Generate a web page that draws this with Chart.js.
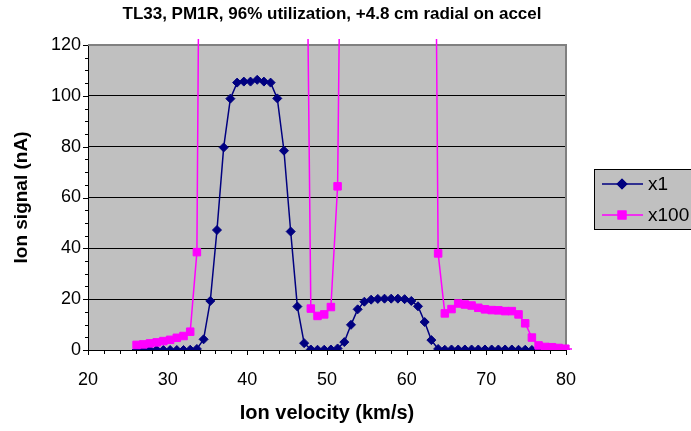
<!DOCTYPE html>
<html>
<head>
<meta charset="utf-8">
<script src="https://cdn.jsdelivr.net/npm/chart.js@4.4.1/dist/chart.umd.min.js"></script>
<style>
  html, body { margin: 0; padding: 0; background: #fff; }
</style>
</head>
<body>
<canvas id="ionChart" width="691" height="431"></canvas>
<script>
// Ion velocity (km/s) for each sample
const velocity = [
  26.10, 26.94, 27.78, 28.62, 29.46, 30.31, 31.15, 31.99, 32.83, 33.67,
  34.51, 35.35, 36.19, 37.03, 37.87, 38.72, 39.56, 40.40, 41.24, 42.08,
  42.92, 43.76, 44.60, 45.44, 46.28, 47.13, 47.97, 48.81, 49.65, 50.49,
  51.33, 52.17, 53.01, 53.85, 54.69, 55.54, 56.38, 57.22, 58.06, 58.90,
  59.74, 60.58, 61.42, 62.26, 63.10, 63.95, 64.79, 65.63, 66.47, 67.31,
  68.15, 68.99, 69.83, 70.67, 71.51, 72.36, 73.20, 74.04, 74.88, 75.72,
  76.56, 77.40, 78.24, 79.08, 79.92, 81.00
];

// Ion signal (nA), gain x1
const signalX1 = [
  0, 0, 0, 0, 0, 0, 0, 0, 0.1, 0.4,
  4.2, 19.3, 47.2, 79.7, 98.9, 105.2, 105.6, 105.6, 106.3, 105.6,
  105.2, 99.0, 78.4, 46.6, 17.1, 2.7, 0.2, 0.1, 0.1, 0.2,
  0.6, 3.1, 9.9, 16.0, 19.0, 19.8, 20.1, 20.2, 20.2, 20.2,
  20.0, 19.3, 17.2, 11.0, 3.9, 0.4, 0.1, 0.2, 0.2, 0.2,
  0.2, 0.2, 0.2, 0.2, 0.2, 0.2, 0.2, 0.1, 0.1, 0,
  0, 0, 0, 0, 0
];

// Ion signal (nA), gain x100 (off-scale in the big peaks)
const signalX100 = [
  2.0, 2.2, 2.6, 3.0, 3.5, 4.0, 4.8, 5.5, 7.2, 38.5,
  420, 1930, 4720, 7970, 9890, 10520, 10560, 10560, 10630, 10560,
  10520, 9900, 7840, 4660, 1710, 270, 16.3, 13.4, 14.0, 16.9,
  64.4, 310, 990, 1600, 1900, 1980, 2010, 2020, 2020, 2020,
  2000, 1930, 1720, 1100, 390, 38.0, 14.4, 16.1, 18.3, 17.9,
  17.5, 16.6, 16.0, 15.7, 15.6, 15.3, 15.3, 14.0, 10.5, 4.9,
  1.8, 1.2, 1.1, 0.8, 0.5, 0.3
];

const seriesNames = ['x1', 'x100'];
const chartTitle = 'TL33, PM1R, 96% utilization, +4.8 cm radial on accel';
const FONT = "'Liberation Sans', Arial, sans-serif";

// grey plot area, grey top/right frame, tick marks and the title
const plotFrame = {
  id: 'plotFrame',
  beforeDraw(chart) {
    const { ctx, chartArea: a } = chart;
    ctx.save();
    ctx.fillStyle = '#ffffff';
    ctx.fillRect(0, 0, chart.width, chart.height);
    ctx.fillStyle = '#c0c0c0';
    ctx.fillRect(a.left, a.top, a.right - a.left, a.bottom - a.top);
    ctx.fillStyle = '#000';
    ctx.font = 'bold 17px ' + FONT;
    ctx.textAlign = 'center';
    ctx.textBaseline = 'middle';
    ctx.fillText(chartTitle, 332, 14);
    ctx.restore();
  },
  beforeDatasetsDraw(chart) {
    const { ctx, chartArea: a, scales } = chart;
    ctx.save();
    ctx.strokeStyle = '#808080';
    ctx.lineWidth = 2;
    ctx.beginPath();
    ctx.moveTo(a.left, a.top);
    ctx.lineTo(a.right, a.top);
    ctx.lineTo(a.right, a.bottom);
    ctx.stroke();

    ctx.strokeStyle = '#000';
    ctx.lineWidth = 1;
    ctx.beginPath();
    for (let v = 0; v <= 120; v += 5) {
      const y = Math.round(scales.y.getPixelForValue(v)) + 0.5;
      const len = v % 20 === 0 ? 5 : 3;
      ctx.moveTo(a.left - len, y);
      ctx.lineTo(a.left, y);
    }
    for (let v = 20; v <= 80; v += 2) {
      const x = Math.round(scales.x.getPixelForValue(v)) + 0.5;
      const len = v % 10 === 0 ? 5 : 4;
      ctx.moveTo(x, a.bottom);
      ctx.lineTo(x, a.bottom + len);
    }
    ctx.stroke();
    ctx.restore();
  }
};

// Excel-like legend box hanging off the right edge
const boxLegend = {
  id: 'boxLegend',
  afterDraw(chart) {
    const { ctx } = chart;
    const ds = chart.data.datasets;
    ctx.save();
    ctx.fillStyle = '#c0c0c0';
    ctx.strokeStyle = '#000';
    ctx.lineWidth = 1;
    ctx.fillRect(594.5, 169.5, 110, 60);
    ctx.strokeRect(594.5, 169.5, 110, 60);
    [184, 215].forEach((y, i) => {
      const d = ds[i];
      ctx.strokeStyle = d.borderColor;
      ctx.lineWidth = 1.5;
      ctx.beginPath();
      ctx.moveTo(602, y);
      ctx.lineTo(643, y);
      ctx.stroke();
      ctx.fillStyle = d.backgroundColor;
      Chart.helpers.drawPoint(ctx, {
        pointStyle: d.pointStyle, radius: d.pointRadius, borderWidth: 1, rotation: 0
      }, 622, y);
      ctx.fill();
      ctx.stroke();
      ctx.fillStyle = '#000';
      ctx.font = '19px ' + FONT;
      ctx.textBaseline = 'middle';
      ctx.textAlign = 'left';
      ctx.fillText(d.label, 648, y + 1);
    });
    ctx.restore();
  }
};

new Chart(document.getElementById('ionChart'), {
  type: 'line',
  data: {
    datasets: [{
      label: seriesNames[0],
      data: signalX1.map((s, i) => ({ x: velocity[i], y: s })),
      borderColor: '#000080',
      backgroundColor: '#000080',
      borderWidth: 1.5,
      pointStyle: 'rectRot',
      pointRadius: 4.5,
      pointBorderWidth: 1,
      order: 2,
      clip: { left: 0, top: 6, right: 6, bottom: 0 }
    }, {
      label: seriesNames[1],
      data: signalX100.map((s, i) => ({ x: velocity[i], y: s })),
      borderColor: '#ff00ff',
      backgroundColor: '#ff00ff',
      borderWidth: 1.5,
      pointStyle: 'rect',
      pointRadius: 5.3,
      pointBorderWidth: 1,
      order: 1,
      clip: { left: 0, top: 6, right: 6, bottom: 0 }
    }]
  },
  options: {
    responsive: false,
    devicePixelRatio: 1,
    animation: false,
    layout: { padding: { left: 0, right: 125, top: 45, bottom: 0 } },
    plugins: {
      legend: { display: false },
      tooltip: { enabled: false },
      title: { display: false }
    },
    scales: {
      x: {
        type: 'linear',
        min: 20,
        max: 80,
        afterFit(scale) { scale.height = 81; },
        ticks: { stepSize: 10, color: '#000', padding: 19, font: { family: FONT, size: 18 } },
        grid: { display: false, drawTicks: false },
        border: { display: true, color: '#000', width: 1 },
        title: {
          display: true,
          text: 'Ion velocity (km/s)',
          color: '#000',
          font: { family: FONT, size: 20, weight: 'bold' },
          padding: { top: 0, bottom: 6 }
        }
      },
      y: {
        min: 0,
        max: 120,
        afterFit(scale) { scale.width = 88; },
        ticks: { stepSize: 20, color: '#000', padding: 7, font: { family: FONT, size: 18 } },
        grid: { color: '#000', lineWidth: 1, drawTicks: false },
        border: { display: true, color: '#000', width: 1 },
        title: {
          display: true,
          text: 'Ion signal (nA)',
          color: '#000',
          font: { family: FONT, size: 19, weight: 'bold' },
          padding: { top: 10, bottom: 0 }
        }
      }
    }
  },
  plugins: [plotFrame, boxLegend]
});
</script>
</body>
</html>
